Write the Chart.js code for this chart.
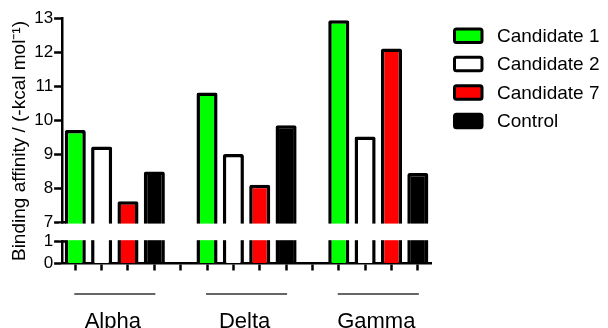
<!DOCTYPE html>
<html>
<head>
<meta charset="utf-8">
<script src="https://cdn.jsdelivr.net/npm/chart.js@4.4.0/dist/chart.umd.min.js"></script>
<style>
  html, body { margin: 0; padding: 0; background: #fff; }
</style>
</head>
<body>
<canvas id="affinityChart" width="608" height="328"></canvas>
<script>
const groups = ['Alpha', 'Delta', 'Gamma'];
const seriesNames = ['Candidate 1', 'Candidate 2', 'Candidate 7', 'Control'];
const candidate1 = [9.72, 10.82, 12.95];
const candidate2 = [9.23, 9.01, 9.53];
const candidate7 = [7.62, 8.11, 12.12];
const control = [8.5, 9.86, 8.45];
const yTicks = [0, 1, 7, 8, 9, 10, 11, 12, 13];

const seriesValues = [candidate1, candidate2, candidate7, control];
const seriesColors = ['#00ff00', '#ffffff', '#ff0000', '#000000'];
const FONT = '"Liberation Sans", Arial, sans-serif';

// y axis is cut between 1 and 7
const BREAK_LOW = 1;
const BREAK_HIGH = 7;
const LOWER_SHARE = 0.09; // part of the axis height used by 0..1
const GAP_SHARE = 0.078;  // part used by the blank gap

class BrokenLinearScale extends Chart.LinearScale {
  static id = 'brokenLinear';

  buildTicks() {
    return yTicks.map(v => ({ value: v }));
  }

  toDecimal(v) {
    if (v <= BREAK_LOW) return (v - this.min) / (BREAK_LOW - this.min) * LOWER_SHARE;
    if (v < BREAK_HIGH) return LOWER_SHARE + (v - BREAK_LOW) / (BREAK_HIGH - BREAK_LOW) * GAP_SHARE;
    return LOWER_SHARE + GAP_SHARE +
      (v - BREAK_HIGH) / (this.max - BREAK_HIGH) * (1 - LOWER_SHARE - GAP_SHARE);
  }

  getPixelForValue(v) {
    return this.getPixelForDecimal(this.toDecimal(v));
  }
}
Chart.register(BrokenLinearScale);

// one slot per bar, plus an empty slot between groups
const perGroup = seriesNames.length + 1;
const slotCount = groups.length * perGroup - 1;
const slotOf = (g, s) => g * perGroup + s;

const slotLabels = [];
for (let i = 0; i < slotCount; i++) {
  const g = Math.floor(i / perGroup);
  const s = i % perGroup;
  slotLabels.push(s < seriesNames.length ? `${groups[g]} ${seriesNames[s]}` : '');
}

const datasets = seriesNames.map((name, s) => {
  const data = new Array(slotCount).fill(null);
  groups.forEach((_, g) => { data[slotOf(g, s)] = seriesValues[s][g]; });
  return {
    label: name,
    data: data,
    backgroundColor: seriesColors[s],
    borderColor: '#000',
    borderWidth: 3.5,
    borderRadius: 2,
    borderSkipped: 'start',
    grouped: false,
    barPercentage: 0.8,
    categoryPercentage: 1
  };
});

const decorPlugin = {
  id: 'decor',
  afterDatasetsDraw(chart) {
    // blank out the axis break
    const { ctx, chartArea, scales: { y } } = chart;
    const top = y.getPixelForValue(BREAK_HIGH);
    const bottom = y.getPixelForValue(BREAK_LOW);
    ctx.save();
    ctx.fillStyle = '#fff';
    ctx.fillRect(chartArea.left - 3, top + 1.25, chartArea.right - chartArea.left + 4, bottom - top - 2.5);
    ctx.strokeStyle = '#000';
    ctx.lineWidth = 2.5;
    ctx.beginPath();
    [top, bottom].forEach(py => {
      ctx.moveTo(chartArea.left - 1, py);
      ctx.lineTo(chartArea.left + 4, py);
    });
    ctx.stroke();
    ctx.restore();
  },
  afterDraw(chart) {
    const { ctx, chartArea, scales: { x } } = chart;
    ctx.save();

    // group underlines and names
    ctx.strokeStyle = '#333';
    ctx.lineWidth = 1.5;
    ctx.fillStyle = '#000';
    ctx.font = `22px ${FONT}`;
    ctx.textAlign = 'center';
    ctx.textBaseline = 'alphabetic';
    groups.forEach((name, g) => {
      const x1 = x.getPixelForValue(slotOf(g, 0));
      const x2 = x.getPixelForValue(slotOf(g, seriesNames.length - 1));
      const ly = chartArea.bottom + 30.5;
      ctx.beginPath();
      ctx.moveTo(x1 - 1, ly);
      ctx.lineTo(x2 + 1, ly);
      ctx.stroke();
      ctx.fillText(name, (x1 + x2) / 2 - 2, chartArea.bottom + 64.5);
    });

    // legend
    ctx.font = `19px ${FONT}`;
    ctx.textAlign = 'left';
    ctx.textBaseline = 'middle';
    chart.data.datasets.forEach((ds, i) => {
      const cy = chartArea.top + 17.2 + i * 28.4;
      ctx.beginPath();
      ctx.roundRect(chartArea.right + 23.5, cy - 6.75, 27.5, 13.5, 2);
      ctx.fillStyle = ds.backgroundColor;
      ctx.fill();
      ctx.lineWidth = 3;
      ctx.strokeStyle = '#000';
      ctx.stroke();
      ctx.fillStyle = '#000';
      ctx.fillText(ds.label, chartArea.right + 66, cy + 1);
    });
    ctx.restore();
  }
};

Chart.defaults.font.family = FONT;
Chart.defaults.color = '#000';

new Chart(document.getElementById('affinityChart'), {
  type: 'bar',
  data: { labels: slotLabels, datasets: datasets },
  options: {
    responsive: false,
    animation: false,
    layout: { padding: { left: 2.4, right: 177, top: 18.5, bottom: 57.5 } },
    plugins: {
      legend: { display: false },
      tooltip: { enabled: false }
    },
    scales: {
      x: {
        offset: true,
        z: 1,
        grid: {
          drawOnChartArea: false,
          offset: false,
          tickLength: 7,
          tickWidth: 2.5,
          tickColor: '#000'
        },
        border: { color: '#000', width: 2.5 },
        ticks: { display: false }
      },
      y: {
        type: 'brokenLinear',
        min: 0,
        max: 13,
        grid: {
          drawOnChartArea: false,
          tickLength: 8,
          tickWidth: 2.5,
          tickColor: '#000'
        },
        border: { color: '#000', width: 2.5 },
        ticks: { padding: 1, font: { size: 17 } },
        title: {
          display: true,
          text: 'Binding affinity / (-kcal mol⁻¹)',
          font: { size: 19 },
          padding: { top: 6, bottom: 2 }
        }
      }
    }
  },
  plugins: [decorPlugin]
});
</script>
</body>
</html>
